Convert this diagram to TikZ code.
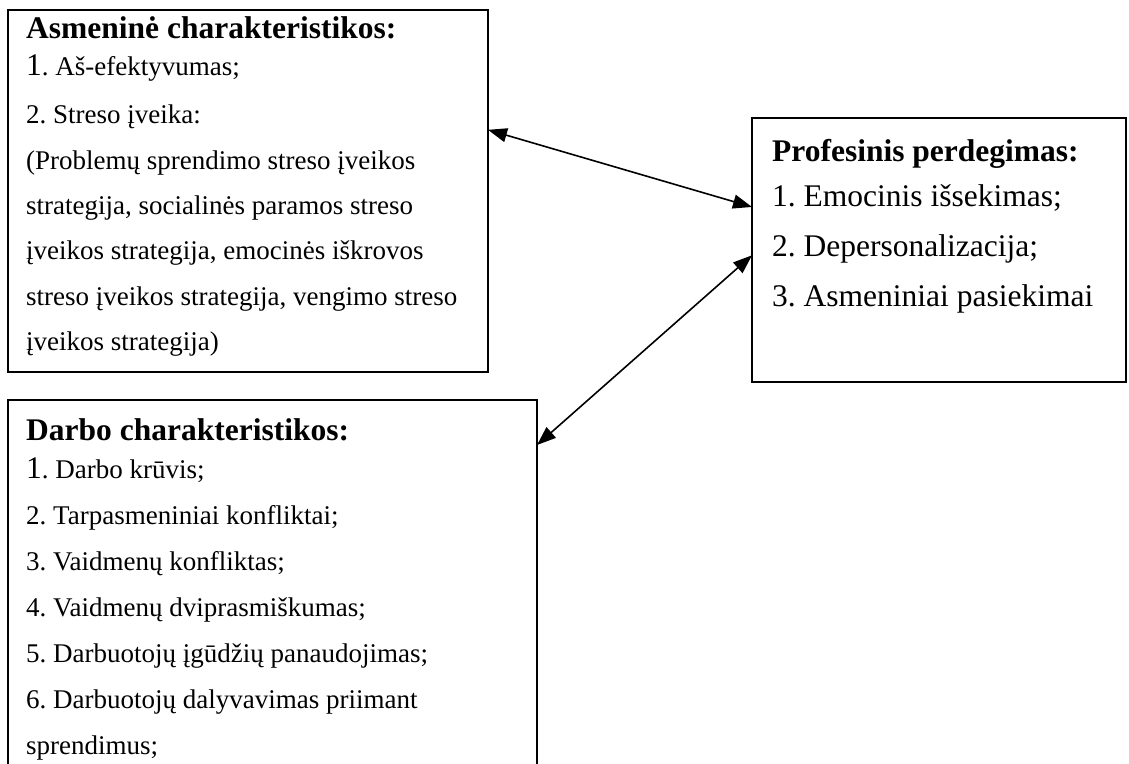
\documentclass[tikz,border=0pt]{standalone}
\usepackage{fontspec}
\setmainfont{Liberation Serif}
\usetikzlibrary{arrows.meta,calc}
\newcommand\numbig[1]{{\fontsize{31.5}{36}\selectfont #1}}
\tikzset{
  box/.style={draw,line width=1.6pt,outer sep=0pt,inner sep=0pt,anchor=north west},
  ttl/.style={anchor=base west,inner sep=0pt,font=\bfseries\fontsize{31.5}{36}\selectfont},
  big/.style={anchor=base west,inner sep=0pt,font=\fontsize{31.5}{36}\selectfont},
  sml/.style={anchor=base west,inner sep=0pt,font=\fontsize{27}{31}\selectfont},
}

\begin{document}
\frenchspacing
\begin{tikzpicture}[x=1pt,y=-1pt,>={Triangle[length=19pt,width=14pt]}]
  \useasboundingbox (0,0) rectangle (1129,763);
  \clip (0,0) rectangle (1129,763);
  % the three frames
  \node[box,minimum width=480pt,minimum height=362pt] (asm) at (8,10) {};
  \node[box,minimum width=374pt,minimum height=264pt] (prof) at (752,118) {};
  \node[box,minimum width=529pt,minimum height=400pt] (darb) at (8,400) {};
  % Asmeninė charakteristikos
  \node[ttl] (asmt) at (26,38) {Asmeninė charakteristikos:};
  \node[sml] (asm1) at (26,75) {\numbig{1}. Aš-efektyvumas;};
  \node[sml] (asm2) at (26,123) {2. Streso įveika:};
  \foreach \y/\t [count=\i] in {169/{(Problemų sprendimo streso įveikos},
      214/{strategija, socialinės paramos streso},
      259/{įveikos strategija, emocinės iškrovos},
      305/{streso įveikos strategija, vengimo streso},
      350/{įveikos strategija)}}
    \node[sml] (asmp\i) at (26,\y) {\t};
  % Profesinis perdegimas
  \node[ttl] (proft) at (772,161) {Profesinis perdegimas:};
  \foreach \y/\t [count=\i] in {206/1. Emocinis išsekimas;,256/2. Depersonalizacija;,306/3. Asmeniniai pasiekimai}
    \node[big] (prof\i) at (772,\y) {\t};
  % Darbo charakteristikos
  \node[ttl] (darbt) at (26,440) {Darbo charakteristikos:};
  \node[sml] (darb1) at (26,478) {\numbig{1}. Darbo krūvis;};
  \foreach \y/\t [count=\i from 2] in {524/2. Tarpasmeniniai konfliktai;,
      570/3. Vaidmenų konfliktas;,
      616/4. Vaidmenų dviprasmiškumas;,
      662/5. Darbuotojų įgūdžių panaudojimas;,
      708/6. Darbuotojų dalyvavimas priimant,
      754/sprendimus;}
    \node[sml] (darb\i) at (26,\y) {\t};
  % links
  \draw[<->,line width=1.6pt] ($(asm.north east)!0.331!(asm.south east)$) -- ($(prof.north west)!0.337!(prof.south west)$);
  \draw[<->,line width=1.6pt] ($(prof.north west)!0.52!(prof.south west)$) -- ($(darb.north east)!0.1125!(darb.south east)$);
\end{tikzpicture}
\end{document}
